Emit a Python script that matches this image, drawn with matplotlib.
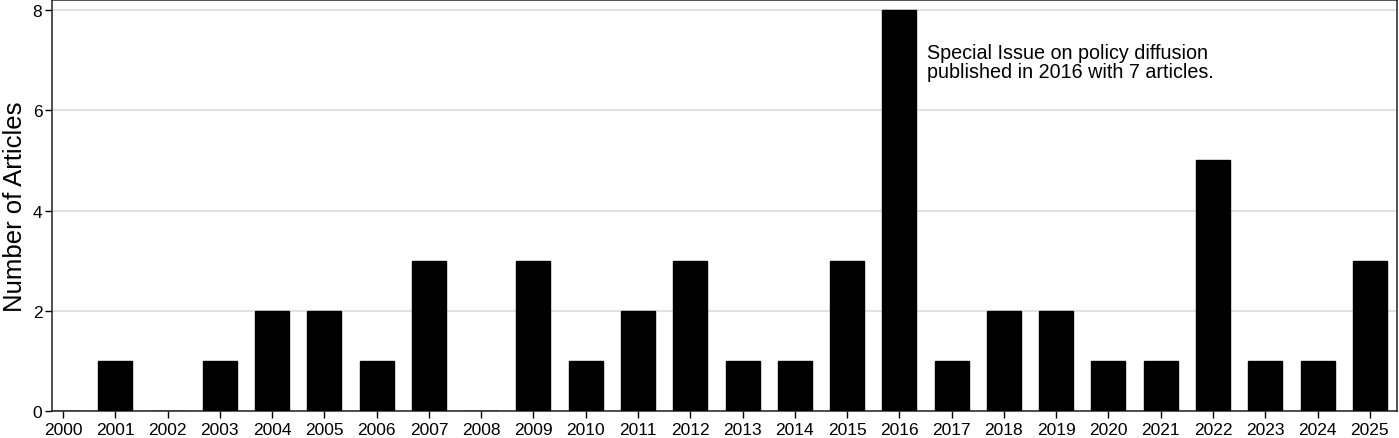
import matplotlib
matplotlib.use("Agg")
import matplotlib.pyplot as plt

plt.rcParams['font.family'] = ['Liberation Sans', 'DejaVu Sans']

# datos
years = list(range(2000, 2026))
articles = [0, 1, 0, 1, 2, 2, 1, 3, 0, 3, 1, 2, 3, 1, 1, 3, 8, 1, 2, 2, 1, 1, 5, 1, 1, 3]
note = "Special Issue on policy diffusion\npublished in 2016 with 7 articles."

fig = plt.figure(figsize=(13.99, 4.39), dpi=100)
ax = fig.add_axes([52 / 1399, 27 / 439, 1345 / 1399, 411 / 439])

ax.bar(years, articles, width=0.65, color='black', edgecolor='black', zorder=3)

ax.set_xlim(1999.79, 2025.52)
ax.set_ylim(0, 8.2)
ax.set_xticks(years)
ax.set_xticklabels([str(y) for y in years], fontsize=12.5)
ax.set_yticks([0, 2, 4, 6, 8])
ax.tick_params(axis='y', labelsize=12.5, length=5, width=1, pad=2)
ax.tick_params(axis='x', length=5, width=1, pad=3)
ax.yaxis.grid(True, color='#dcdcdc', linewidth=1.2, zorder=0)
ax.set_axisbelow(True)
for s in ax.spines.values():
    s.set_linewidth(1.1)
    s.set_color('#222222')

ax.set_ylabel('Number of Articles', fontsize=18.5, labelpad=4)
ax.text(2016.53, 6.96, note, fontsize=14.2, ha='left', va='center', linespacing=1.0)

fig.savefig('out.png', dpi=100)
